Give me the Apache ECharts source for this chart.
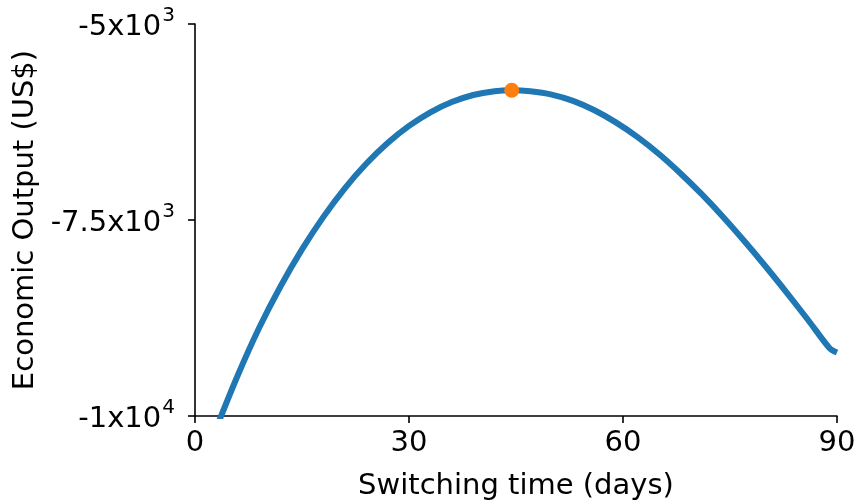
<!DOCTYPE html>
<html>
<head>
<meta charset="utf-8">
<script src="https://cdn.jsdelivr.net/npm/echarts@6/dist/echarts.min.js"></script>
<style>
  html, body { margin: 0; padding: 0; background: #fff; }
  #chart { width: 856px; height: 500px; }
</style>
</head>
<body>
<div id="chart"></div>
<script>
// Switching time (days) and the economic output reached at each one
const switchDays = [0, 3, 6, 9, 12, 15, 18, 21, 24, 27, 30, 33, 36, 39, 42, 44.4, 47, 50, 53, 56, 59, 62, 65, 68, 71, 74, 77, 80, 83, 86, 89, 90];
const outputUSD = [-10850, -10150, -9480, -8875, -8345, -7875, -7460, -7096, -6783, -6518, -6300, -6126, -5996, -5906, -5857, -5845, -5858, -5900, -5980, -6100, -6255, -6440, -6655, -6900, -7168, -7458, -7768, -8093, -8432, -8782, -9140, -9190];

// Optimal switching time
const optimumDay = [44.4];
const optimumOutput = [-5845];

// Y tick labels written as mantissa + exponent
const yTickValues = [-10000, -7500, -5000];
const yTickMantissa = ['-1x10', '-7.5x10', '-5x10'];
const yTickExponent = ['4', '3', '3'];

const xTicks = [0, 30, 60, 90];

const curve = switchDays.map((d, i) => [d, outputUSD[i]]);
const optimum = optimumDay.map((d, i) => [d, optimumOutput[i]]);

const FONT = 'DejaVu Sans';
const chart = echarts.init(document.getElementById('chart'), null, { renderer: 'canvas' });

chart.setOption({
  animation: false,
  backgroundColor: '#ffffff',
  grid: { left: 195, right: 19, top: 24, bottom: 84, containLabel: false, outerBoundsMode: 'none' },
  xAxis: {
    type: 'value',
    min: xTicks[0],
    max: xTicks[xTicks.length - 1],
    interval: 30,
    name: 'Switching time (days)',
    nameLocation: 'middle',
    nameGap: 56,
    nameTextStyle: { fontFamily: FONT, fontSize: 29, color: '#000' },
    axisLine: { onZero: false, lineStyle: { color: '#000', width: 1.6 } },
    axisTick: { show: true, inside: false, length: 7, lineStyle: { color: '#000', width: 1.6 } },
    axisLabel: { margin: 13, fontFamily: FONT, fontSize: 29, color: '#000' },
    splitLine: { show: false }
  },
  yAxis: {
    type: 'value',
    min: yTickValues[0],
    max: yTickValues[yTickValues.length - 1],
    interval: 2500,
    name: 'Economic Output (US$)',
    nameLocation: 'middle',
    nameGap: 153,
    nameRotate: 90,
    nameTextStyle: { fontFamily: FONT, fontSize: 29, color: '#000' },
    axisLine: { onZero: false, lineStyle: { color: '#000', width: 1.6 } },
    axisTick: { show: true, inside: false, length: 7, lineStyle: { color: '#000', width: 1.6 } },
    axisLabel: {
      margin: 20,
      formatter: function (v) {
        const i = yTickValues.indexOf(v);
        if (i < 0) return '';
        return '{m|' + yTickMantissa[i] + '}{e|' + yTickExponent[i] + '}';
      },
      rich: {
        m: { fontFamily: FONT, fontSize: 29, color: '#000', lineHeight: 36, verticalAlign: 'bottom' },
        e: { fontFamily: FONT, fontSize: 20, color: '#000', lineHeight: 36, verticalAlign: 'top', padding: [0, 0, 0, 1] }
      }
    },
    splitLine: { show: false }
  },
  series: [
    {
      type: 'line',
      data: curve,
      smooth: 0.25,
      showSymbol: false,
      clip: true,
      lineStyle: { color: '#1f77b4', width: 6 },
      z: 2
    },
    {
      type: 'scatter',
      data: optimum,
      symbol: 'circle',
      symbolSize: 15,
      itemStyle: { color: '#ff7f0e', opacity: 1 },
      z: 3
    }
  ]
});
</script>
</body>
</html>
